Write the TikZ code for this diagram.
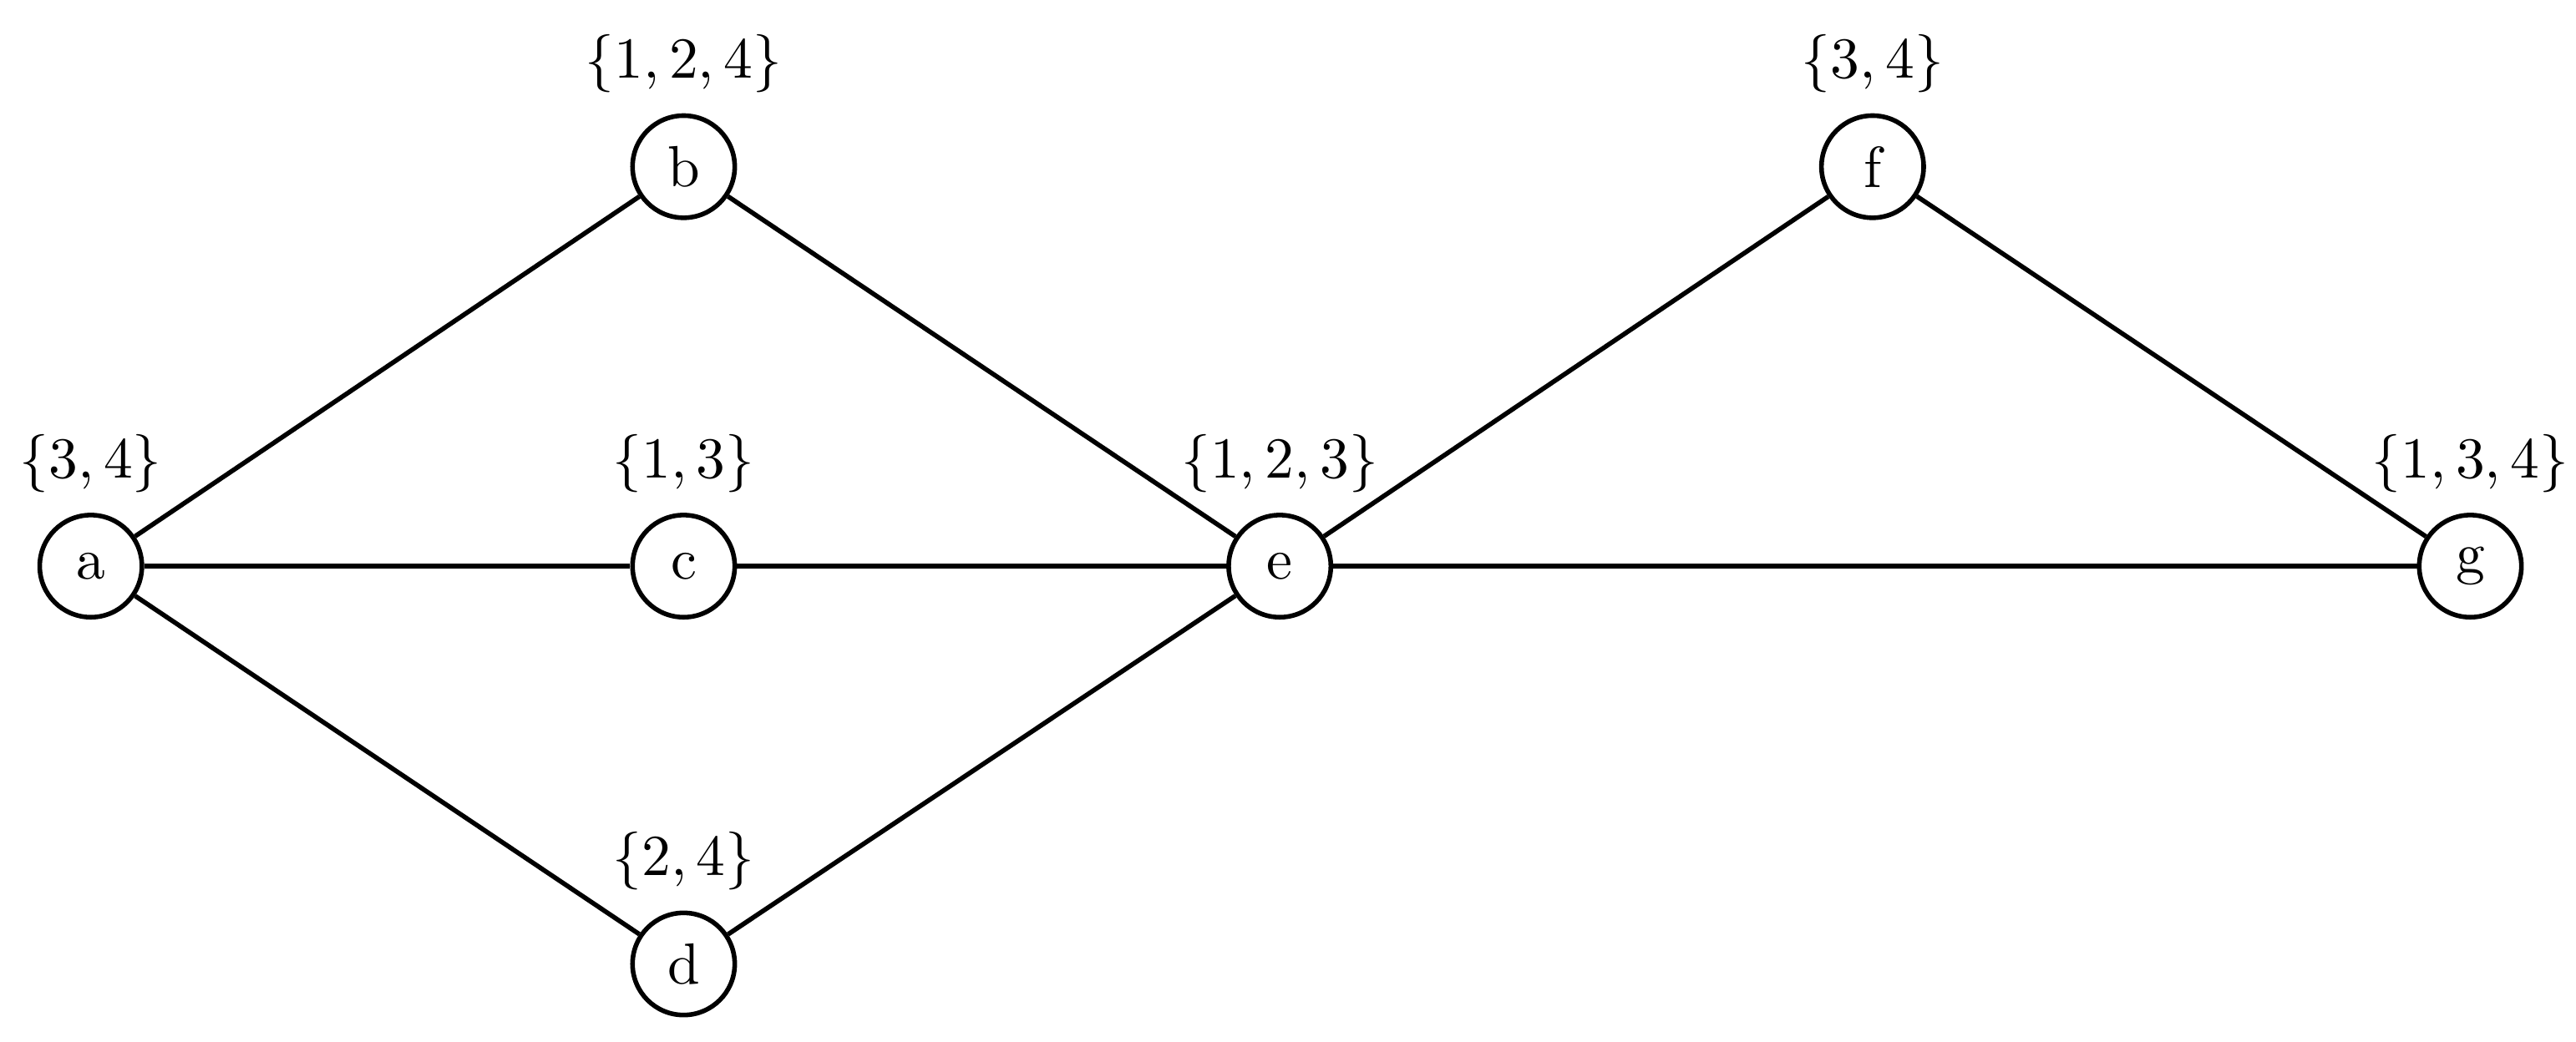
\documentclass[tikz,border=0pt]{standalone}
\usetikzlibrary{positioning}
\begin{document}
\begin{tikzpicture}[x=0.01cm,y=-0.01cm,
  vtx/.style={draw,circle,minimum size=17.6pt,inner sep=0pt,thick,font=\normalsize},
  lbl/.style={font=\normalsize},
  edge/.style={thick}
]
\useasboundingbox (0,0) rectangle (1560,631);
\node[vtx,label={[lbl]above:$\{3,4\}$}] (a) at (55,343) {a};
\node[vtx,label={[lbl]above:$\{1,2,4\}$}] (b) at (414,101) {b};
\node[vtx,label={[lbl]above:$\{1,3\}$}] (c) at (414,343) {c};
\node[vtx,label={[lbl]above:$\{2,4\}$}] (d) at (414,584) {d};
\node[vtx,label={[lbl]above:$\{1,2,3\}$}] (e) at (775,343) {e};
\node[vtx,label={[lbl]above:$\{3,4\}$}] (f) at (1134,101) {f};
\node[vtx,label={[lbl]above:$\{1,3,4\}$}] (g) at (1496,343) {g};
\draw[edge] (a) -- (b);
\draw[edge] (a) -- (c);
\draw[edge] (a) -- (d);
\draw[edge] (b) -- (e);
\draw[edge] (c) -- (e);
\draw[edge] (d) -- (e);
\draw[edge] (e) -- (f);
\draw[edge] (f) -- (g);
\draw[edge] (e) -- (g);
\end{tikzpicture}
\end{document}
